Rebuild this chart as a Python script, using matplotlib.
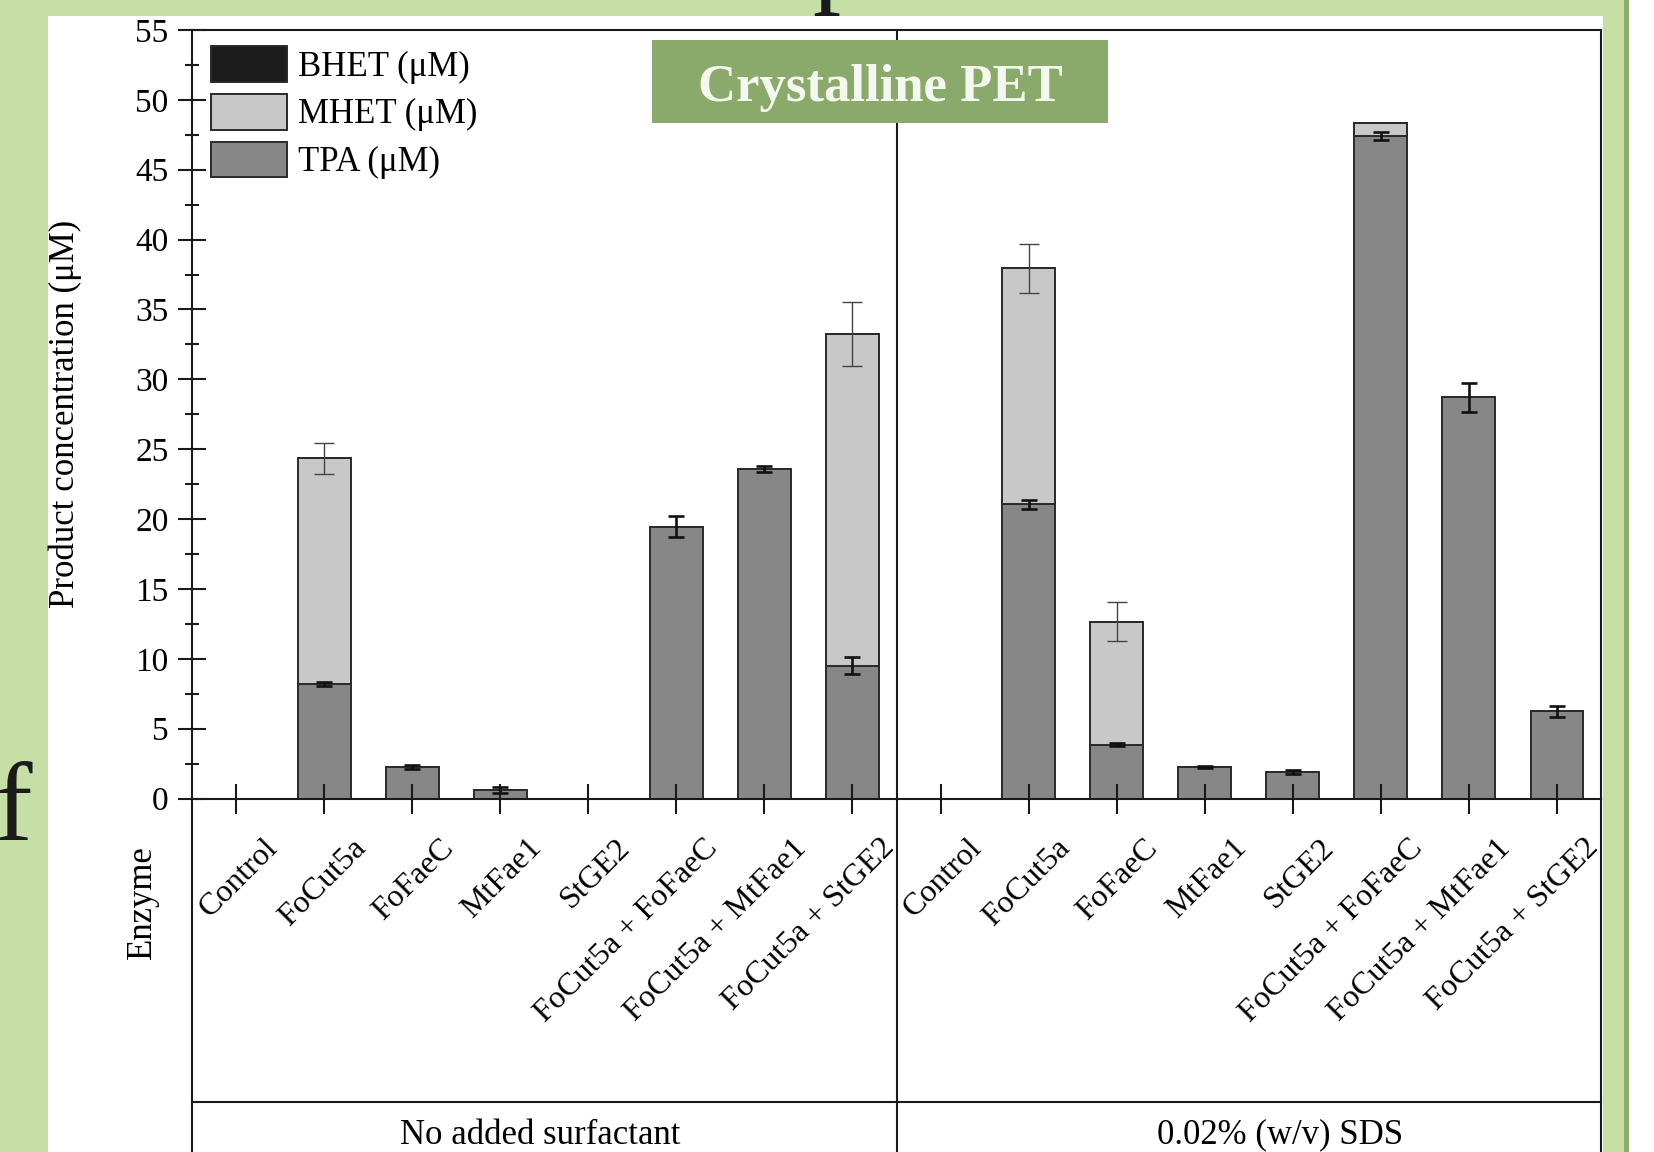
import numpy as np
import matplotlib
matplotlib.use('Agg')
import matplotlib.pyplot as plt
import matplotlib.transforms as mtransforms
from matplotlib.patches import Rectangle, Patch
from matplotlib.lines import Line2D

# data (uM)
categories = ['Control', 'FoCut5a', 'FoFaeC', 'MtFae1', 'StGE2',
              'FoCut5a + FoFaeC', 'FoCut5a + MtFae1', 'FoCut5a + StGE2']
groups = ['No added surfactant', '0.02% (w/v) SDS']

tpa_none = np.array([0, 8.2, 2.25, 0.6, 0, 19.45, 23.6, 9.5])
tpa_none_err = np.array([0, 0.15, 0.15, 0.2, 0, 0.75, 0.2, 0.6])
mhet_none = np.array([0, 16.15, 0, 0, 0, 0, 0, 23.75])
mhet_none_err = np.array([0, 1.1, 0, 0, 0, 0, 0, 2.3])
bhet_none = np.zeros(8)

tpa_sds = np.array([0, 21.05, 3.85, 2.25, 1.9, 47.4, 28.7, 6.25])
tpa_sds_err = np.array([0, 0.3, 0.1, 0.1, 0.15, 0.3, 1.05, 0.4])
mhet_sds = np.array([0, 16.9, 8.8, 0, 0, 0.95, 0, 0])
mhet_sds_err = np.array([0, 1.75, 1.4, 0, 0, 0, 0, 0])
bhet_sds = np.zeros(8)

TPA_C = '#878787'
MHET_C = '#c8c8c8'
BHET_C = '#1c1c1c'
EDGE = '#2a2a2a'
INK = '#1a1a1a'
GREEN = '#c5dfa5'
GREEN_DARK = '#8aae6a'

plt.rcParams['font.family'] = ['Liberation Serif', 'DejaVu Serif']

W, H = 1654, 1152
fig = plt.figure(figsize=(W / 100, H / 100), dpi=100)


def fx(x):
    return x / W


def fy(y):
    return 1 - y / H


# slide background strips
for (x0, y0, x1, y1, c) in [(0, 0, 48, H, GREEN), (0, 0, 1624, 16, GREEN),
                            (1603, 0, 1624, H, GREEN), (1624, 0, 1629, H, GREEN_DARK)]:
    fig.add_artist(Rectangle((fx(x0), fy(y1)), fx(x1) - fx(x0), fy(y0) - fy(y1),
                             transform=fig.transFigure, fc=c, ec='none', zorder=-5))

fig.text(fx(-5), fy(840), 'f', fontsize=81, color=INK, ha='left', va='baseline')
fig.text(fx(812), fy(-8.4), 'p', fontsize=81, color=INK, ha='left', va='baseline')

ax_l, ax_r, ax_t, ax_b = 192, 1601, 30, 798.5
ax = fig.add_axes([fx(ax_l), fy(ax_b), fx(ax_r) - fx(ax_l), fy(ax_t) - fy(ax_b)])

panels = [(np.arange(8), tpa_none, tpa_none_err, mhet_none, mhet_none_err, bhet_none),
          (np.arange(8) + 8, tpa_sds, tpa_sds_err, mhet_sds, mhet_sds_err, bhet_sds)]

for xs, tpa, tpa_err, mhet, mhet_err, bhet in panels:
    ax.bar(xs, tpa, width=0.6, color=TPA_C, edgecolor=EDGE, linewidth=1.4)
    ax.bar(xs, mhet, width=0.6, bottom=tpa, color=MHET_C, edgecolor=EDGE, linewidth=1.4)
    ax.bar(xs, bhet, width=0.6, bottom=tpa + mhet, color=BHET_C, edgecolor=EDGE, linewidth=1.4)
    m = tpa_err > 0
    ax.errorbar(xs[m], tpa[m], yerr=tpa_err[m], fmt='none', ecolor='#111111',
                elinewidth=1.9, capsize=6, capthick=1.9, zorder=4)
    m = mhet_err > 0
    ax.errorbar(xs[m], (tpa + mhet)[m], yerr=mhet_err[m], fmt='none', ecolor='#444444',
                elinewidth=1.0, capsize=7.5, capthick=1.0, zorder=4)

ax.axvline(7.5, color=INK, lw=1.5)
ax.set_xlim(-0.5, 15.5)
ax.set_ylim(0, 55)
ax.set_yticks(np.arange(0, 56, 5))
ax.set_yticks(np.arange(2.5, 55, 5), minor=True)
ax.set_xticks(np.arange(16))
ax.set_xticklabels([])
ax.tick_params(axis='y', which='major', direction='inout', length=20, width=1.5,
               labelsize=24, pad=7, color=INK)
ax.tick_params(axis='y', which='minor', direction='inout', length=10, width=1.5, color=INK)
ax.tick_params(axis='x', which='major', direction='inout', length=21, width=1.5, color=INK)
for s in ax.spines.values():
    s.set_linewidth(1.5)
    s.set_color(INK)

# rotated enzyme names under each tick
offset = mtransforms.ScaledTranslation(0.27, -0.35, fig.dpi_scale_trans)
for i, name in enumerate(categories * 2):
    ax.text(i, 0, name, transform=ax.get_xaxis_transform() + offset, rotation=45,
            rotation_mode='anchor', ha='right', va='top', fontsize=23, clip_on=False)

handles = [Patch(fc=BHET_C, ec=EDGE, lw=1.4, label='BHET (μM)'),
           Patch(fc=MHET_C, ec=EDGE, lw=1.4, label='MHET (μM)'),
           Patch(fc=TPA_C, ec=EDGE, lw=1.4, label='TPA (μM)')]
ax.legend(handles=handles, loc='upper left', bbox_to_anchor=(fx(211), fy(46)),
          bbox_transform=fig.transFigure, frameon=False, fontsize=25,
          handlelength=2.2, handleheight=1.2, labelspacing=0.3,
          handletextpad=0.3, borderpad=0, borderaxespad=0)

# table lines below the axes
x_div = ax_l + 8 / 16 * (ax_r - ax_l)
for (x0, y0, x1, y1) in [(ax_l, ax_b, ax_l, H), (x_div, ax_b, x_div, H),
                         (ax_r, ax_b, ax_r, H), (ax_l, 1102, ax_r, 1102)]:
    fig.add_artist(Line2D([fx(x0), fx(x1)], [fy(y0), fy(y1)], transform=fig.transFigure,
                          color=INK, lw=1.5, zorder=3))

fig.text(fx(65), fy(414), 'Product concentration (μM)', rotation=90,
         ha='center', va='center', fontsize=25)
fig.text(fx(142), fy(902), 'Enzyme', rotation=90, ha='center', va='center', fontsize=25)
fig.text(fx(540), fy(1135), groups[0], ha='center', va='center', fontsize=25)
fig.text(fx(1280), fy(1135), groups[1], ha='center', va='center', fontsize=25)

fig.add_artist(Rectangle((fx(652), fy(123)), fx(1108) - fx(652), fy(40) - fy(123),
                         transform=fig.transFigure, fc='#8aaa6b', ec='none', zorder=5))
fig.text(fx(880), fy(88), 'Crystalline PET', ha='center', va='center', fontsize=38,
         fontweight='bold', color='#f5f8ef', zorder=6)

fig.savefig('out.png', dpi=100)
